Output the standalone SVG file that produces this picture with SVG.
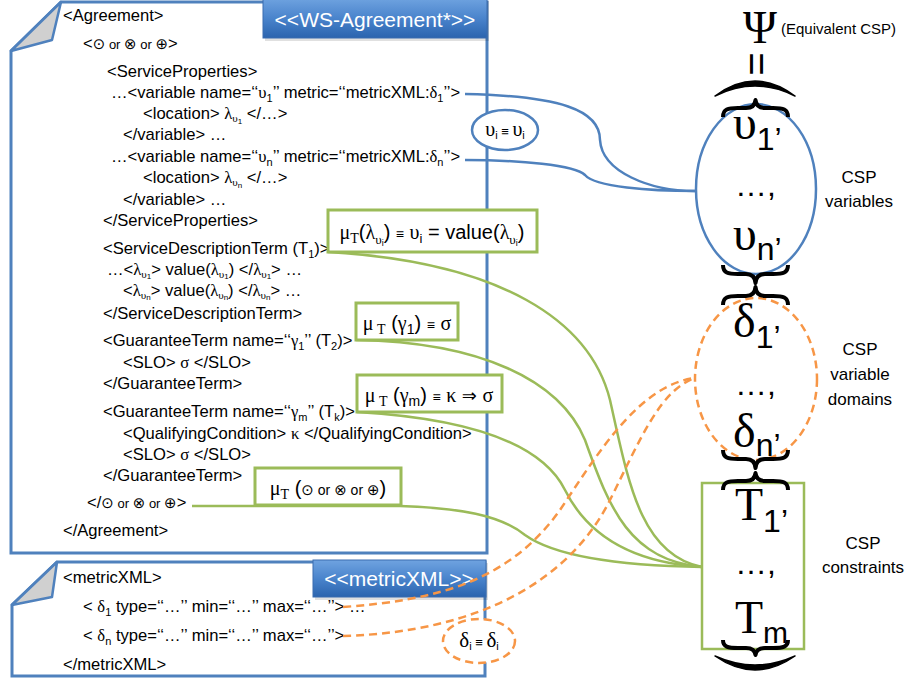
<svg xmlns="http://www.w3.org/2000/svg" width="914" height="679" viewBox="0 0 914 679">
<defs>
<linearGradient id="lblg" x1="0" y1="0" x2="0" y2="1">
<stop offset="0" stop-color="#6FA3E0"/>
<stop offset="0.5" stop-color="#4A84CC"/>
<stop offset="1" stop-color="#2B64AE"/>
</linearGradient>
</defs>
<style>
.doc{fill:#fff;stroke:#4F81BD;stroke-width:3}
.fold{fill:#D0D0D0;stroke:#4F81BD;stroke-width:2.5;stroke-linejoin:round}
.lbl{fill:url(#lblg);stroke:#3A6DAF;stroke-width:1}
.lt{font-family:"Liberation Sans",Arial,sans-serif;font-size:21px;fill:#fff;text-anchor:middle}
.t{font-family:"Liberation Sans",Arial,sans-serif;font-size:16.6px;fill:#000}
.g{font-family:"Liberation Serif","Times New Roman",serif}
.sy{font-family:"DejaVu Sans",sans-serif;font-size:15px}
.or{font-size:13px}
.gbox{fill:#fff;stroke:#9BBB59;stroke-width:3}
.bx{font-family:"Liberation Sans",Arial,sans-serif;font-size:20px;fill:#000}
.gl{fill:none;stroke:#9BBB59;stroke-width:2.5}
.bl{fill:none;stroke:#4F81BD;stroke-width:2.5}
.ol{fill:none;stroke:#F79646;stroke-width:2.5;stroke-dasharray:8 5}
.big{font-family:"Liberation Serif","Times New Roman",serif;fill:#000}
.bs{font-family:"Liberation Sans",Arial,sans-serif;fill:#000}
.cap{font-family:"Liberation Sans",Arial,sans-serif;font-size:17px;fill:#000;text-anchor:middle}
.br{fill:none;stroke:#000;stroke-width:4;stroke-linejoin:round}
</style>

<g id="agreement-doc">
<path class="doc" d="M61,2 L487,2 L487,553 L11,553 L11,51 Z"/>
<path class="fold" d="M61,2 L52,40 L11,51 Z"/>
<rect x="265" y="1" width="224" height="40" fill="#000" opacity="0.12"/>
<rect class="lbl" x="263" y="-2" width="224" height="40"/>
<text class="lt" x="375" y="27">&lt;&lt;WS-Agreement*&gt;&gt;</text>
<text class="t" x="63" y="21">&lt;Agreement&gt;</text>
<text class="t" x="83" y="49">&lt;<tspan class="sy">⊙</tspan><tspan class="or"> or </tspan><tspan class="sy">⊗</tspan><tspan class="or"> or </tspan><tspan class="sy">⊕</tspan>&gt;</text>
<text class="t" x="107" y="77">&lt;ServiceProperties&gt;</text>
<text class="t" x="111" y="98">…&lt;variable name=‘‘<tspan class="g">υ</tspan><tspan font-size="11" dy="4">1</tspan><tspan dy="-4">’’ metric=‘‘metricXML:</tspan><tspan class="g">δ</tspan><tspan font-size="11" dy="4">1</tspan><tspan dy="-4">’’&gt;</tspan></text>
<text class="t" x="143" y="119">&lt;location&gt; <tspan class="g">λ</tspan><tspan class="g" font-size="11" dy="3">υ</tspan><tspan font-size="8" dy="2">1</tspan><tspan dy="-5"> &lt;/…&gt;</tspan></text>
<text class="t" x="123" y="140">&lt;/variable&gt; …</text>
<text class="t" x="111" y="162">…&lt;variable name=‘‘<tspan class="g">υ</tspan><tspan font-size="11" dy="4">n</tspan><tspan dy="-4">’’ metric=‘‘metricXML:</tspan><tspan class="g">δ</tspan><tspan font-size="11" dy="4">n</tspan><tspan dy="-4">’’&gt;</tspan></text>
<text class="t" x="143" y="183">&lt;location&gt; <tspan class="g">λ</tspan><tspan class="g" font-size="11" dy="3">υ</tspan><tspan font-size="8" dy="2">n</tspan><tspan dy="-5"> &lt;/…&gt;</tspan></text>
<text class="t" x="123" y="205">&lt;/variable&gt; …</text>
<text class="t" x="103" y="226">&lt;/ServiceProperties&gt;</text>
<text class="t" x="103" y="254">&lt;ServiceDescriptionTerm (T<tspan font-size="11" dy="4">1</tspan><tspan dy="-4">)&gt;</tspan></text>
<text class="t" x="107" y="275">…&lt;<tspan class="g">λ</tspan><tspan class="g" font-size="11" dy="3">υ</tspan><tspan font-size="8" dy="1">1</tspan><tspan dy="-4">&gt;  value(</tspan><tspan class="g">λ</tspan><tspan class="g" font-size="11" dy="3">υ</tspan><tspan font-size="8" dy="1">1</tspan><tspan dy="-4">) &lt;/</tspan><tspan class="g">λ</tspan><tspan class="g" font-size="11" dy="3">υ</tspan><tspan font-size="8" dy="1">1</tspan><tspan dy="-4">&gt; …</tspan></text>
<text class="t" x="123" y="296">&lt;<tspan class="g">λ</tspan><tspan class="g" font-size="11" dy="3">υ</tspan><tspan font-size="8" dy="1">n</tspan><tspan dy="-4">&gt;  value(</tspan><tspan class="g">λ</tspan><tspan class="g" font-size="11" dy="3">υ</tspan><tspan font-size="8" dy="1">n</tspan><tspan dy="-4">) &lt;/</tspan><tspan class="g">λ</tspan><tspan class="g" font-size="11" dy="3">υ</tspan><tspan font-size="8" dy="1">n</tspan><tspan dy="-4">&gt; …</tspan></text>
<text class="t" x="103" y="319">&lt;/ServiceDescriptionTerm&gt;</text>
<text class="t" x="103" y="346">&lt;GuaranteeTerm name=‘‘<tspan class="g">γ</tspan><tspan font-size="11" dy="4">1</tspan><tspan dy="-4">’’ (T</tspan><tspan font-size="11" dy="4">2</tspan><tspan dy="-4">)&gt;</tspan></text>
<text class="t" x="123" y="368">&lt;SLO&gt;  <tspan class="g">σ</tspan>  &lt;/SLO&gt;</text>
<text class="t" x="103" y="389">&lt;/GuaranteeTerm&gt;</text>
<text class="t" x="103" y="417">&lt;GuaranteeTerm name=‘‘<tspan class="g">γ</tspan><tspan font-size="11" dy="4">m</tspan><tspan dy="-4">’’ (T</tspan><tspan font-size="11" dy="4">k</tspan><tspan dy="-4">)&gt;</tspan></text>
<text class="t" x="123" y="439">&lt;QualifyingCondition&gt; <tspan class="g">κ</tspan> &lt;/QualifyingCondition&gt;</text>
<text class="t" x="123" y="460">&lt;SLO&gt;  <tspan class="g">σ</tspan>  &lt;/SLO&gt;</text>
<text class="t" x="103" y="481">&lt;/GuaranteeTerm&gt;</text>
<text class="t" x="87" y="508">&lt;/<tspan class="sy">⊙</tspan><tspan class="or"> or </tspan><tspan class="sy">⊗</tspan><tspan class="or"> or </tspan><tspan class="sy">⊕</tspan>&gt;</text>
<text class="t" x="63" y="536">&lt;/Agreement&gt;</text>
</g>

<g id="metricxml-doc">
<path class="doc" d="M57,562 L485,562 L485,676 L12,676 L12,605 Z"/>
<path class="fold" d="M57,562 L52,597 L12,605 Z"/>
<rect x="315" y="563" width="173" height="37" fill="#000" opacity="0.12"/>
<rect class="lbl" x="313" y="560" width="173" height="37"/>
<text class="lt" x="399" y="586">&lt;&lt;metricXML&gt;&gt;</text>
<text class="t" x="63" y="583">&lt;metricXML&gt;</text>
<text class="t" x="83" y="612">&lt; <tspan class="g">δ</tspan><tspan font-size="11" dy="4">1</tspan><tspan dy="-4"> type=‘‘…’’ min=‘‘…’’ max=‘‘…’’&gt; …</tspan></text>
<text class="t" x="83" y="641">&lt; <tspan class="g">δ</tspan><tspan font-size="11" dy="4">n</tspan><tspan dy="-4"> type=‘‘…’’ min=‘‘…’’ max=‘‘…’’&gt;</tspan></text>
<text class="t" x="63" y="670">&lt;/metricXML&gt;</text>
</g>

<g id="connectors">
<path class="bl" d="M465,94 C560,96 600,110 600,140 C602,172 650,191 695,191"/>
<path class="bl" d="M465,160 C520,160 575,165 585,175 C595,187 650,191 695,191"/>
<path class="gl" d="M328,252 C500,262 590,320 610,400 C628,480 640,555 702,567"/>
<path class="gl" d="M356,340 C480,342 560,380 585,440 C610,510 630,560 702,567"/>
<path class="gl" d="M357,412 C460,418 540,440 565,490 C590,540 640,563 702,567"/>
<path class="gl" d="M192,506 L400,506 C460,508 500,515 525,535 C560,560 640,566 702,567"/>
<path class="ol" d="M343,607 C440,600 510,580 560,510 C600,450 640,385 695,378"/>
<path class="ol" d="M343,636 C480,632 570,580 610,500 C640,440 660,390 695,378"/>
</g>

<g id="upsilon-equiv">
<ellipse cx="505" cy="130" rx="33" ry="20" fill="#fff" stroke="#4F81BD" stroke-width="2.5"/>
<text class="bx" x="505" y="136" text-anchor="middle" font-size="18"><tspan class="g" font-size="20">υ</tspan><tspan font-size="11" dy="3">i</tspan><tspan dy="-3" font-size="13"> ≡ </tspan><tspan class="g" font-size="20">υ</tspan><tspan font-size="11" dy="3">i</tspan></text>
</g>

<g id="delta-equiv">
<ellipse cx="479" cy="641" rx="36" ry="22" fill="#fff" stroke="#F79646" stroke-width="2.5" stroke-dasharray="8 5"/>
<text class="bx" x="479" y="647" text-anchor="middle" font-size="17"><tspan class="g" font-size="21">δ</tspan><tspan font-size="11" dy="3">i</tspan><tspan dy="-3" font-size="13"> ≡ </tspan><tspan class="g" font-size="21">δ</tspan><tspan font-size="11" dy="3">i</tspan></text>
</g>

<g id="box-sdt">
<rect class="gbox" x="328" y="210" width="209" height="42"/>
<text class="bx" x="432" y="239" text-anchor="middle"><tspan class="g">μ</tspan><tspan class="g" font-size="14" dy="4">T</tspan><tspan dy="-4">(</tspan><tspan class="g">λ</tspan><tspan class="g" font-size="13" dy="5">υ</tspan><tspan font-size="9" dy="2">i</tspan><tspan dy="-7">) </tspan><tspan font-size="14">≡</tspan> <tspan class="g">υ</tspan><tspan font-size="13" dy="4">i</tspan><tspan dy="-4"> = value(</tspan><tspan class="g">λ</tspan><tspan class="g" font-size="13" dy="5">υ</tspan><tspan font-size="9" dy="2">i</tspan><tspan dy="-7">)</tspan></text>
</g>

<g id="box-gt1">
<rect class="gbox" x="356" y="303" width="102" height="37"/>
<text class="bx" x="407" y="330" text-anchor="middle"><tspan class="g">μ</tspan><tspan class="g" font-size="14" dy="4"> T</tspan><tspan dy="-4"> (</tspan><tspan class="g">γ</tspan><tspan font-size="14" dy="4">1</tspan><tspan dy="-4">) </tspan><tspan font-size="14">≡</tspan> <tspan class="g">σ</tspan></text>
</g>

<g id="box-gtm">
<rect class="gbox" x="357" y="375" width="145" height="37"/>
<text class="bx" x="429" y="402" text-anchor="middle"><tspan class="g">μ</tspan><tspan class="g" font-size="14" dy="4"> T</tspan><tspan dy="-4"> (</tspan><tspan class="g">γ</tspan><tspan font-size="14" dy="4">m</tspan><tspan dy="-4">) </tspan><tspan font-size="14">≡</tspan> <tspan class="g">κ</tspan> <tspan font-family="DejaVu Sans, sans-serif" font-size="18">⇒</tspan> <tspan class="g">σ</tspan></text>
</g>

<g id="box-op">
<rect class="gbox" x="255" y="468" width="146" height="37"/>
<text class="bx" x="328" y="495" text-anchor="middle"><tspan class="g">μ</tspan><tspan class="g" font-size="14" dy="4">T</tspan><tspan dy="-4"> (</tspan><tspan class="sy" font-size="17">⊙</tspan><tspan font-size="14"> or </tspan><tspan class="sy" font-size="17">⊗</tspan><tspan font-size="14"> or </tspan><tspan class="sy" font-size="17">⊕</tspan>)</text>
</g>

<g id="csp">
<text class="big" x="743" y="43" font-size="46">Ψ</text>
<text class="bs" x="781" y="34" font-size="15">(Equivalent CSP)</text>
<text class="bs" transform="translate(757,64) rotate(90)" x="0" y="14" font-size="40" text-anchor="middle">=</text>
<path d="M715,96 Q755,66 795,96 Q755,76 715,96 Z" fill="#000" stroke="#000" stroke-width="1.5" stroke-linejoin="round"/>
<path d="M715,656 Q755,684 795,656 Q755,674 715,656 Z" fill="#000" stroke="#000" stroke-width="1.5" stroke-linejoin="round"/>
</g>

<g id="csp-variables">
<ellipse cx="756" cy="189" rx="60" ry="85" fill="none" stroke="#4F81BD" stroke-width="2.5"/>
<text class="big" x="733" y="139" font-size="48">υ<tspan class="bs" font-size="32" dy="11">1’</tspan></text>
<text class="bs" x="735" y="196" font-size="32">…,</text>
<text class="big" x="733" y="250" font-size="48">υ<tspan class="bs" font-size="32" dy="10">n’</tspan></text>
<text class="cap" x="859" y="183">CSP</text>
<text class="cap" x="859" y="207">variables</text>
</g>

<g id="csp-domains">
<ellipse cx="756" cy="379" rx="61" ry="81" fill="none" stroke="#F79646" stroke-width="2.5" stroke-dasharray="8 5"/>
<text class="big" x="733" y="337" font-size="48">δ<tspan class="bs" font-size="32" dy="11">1’</tspan></text>
<text class="bs" x="735" y="395" font-size="32">…,</text>
<text class="big" x="733" y="447" font-size="48">δ<tspan class="bs" font-size="32" dy="9">n’</tspan></text>
<text class="cap" x="860" y="355">CSP</text>
<text class="cap" x="860" y="380">variable</text>
<text class="cap" x="860" y="405">domains</text>
</g>

<g id="csp-constraints">
<rect x="702" y="483" width="102" height="166" fill="none" stroke="#9BBB59" stroke-width="2.5"/>
<text class="big" x="735" y="520" font-size="46">T<tspan class="bs" font-size="32" dy="12">1’</tspan></text>
<text class="bs" x="735" y="574" font-size="32">…,</text>
<text class="big" x="735" y="633" font-size="46">T<tspan class="bs" font-size="30" dy="10">m</tspan></text>
<text class="cap" x="863" y="549">CSP</text>
<text class="cap" x="863" y="573">constraints</text>
</g>

<g id="braces">
<path class="br" d="M723,117 C723,109 728,108 738,108 L746,108 C752,108 755,105 755.5,100 C756,105 759,108 765,108 L773,108 C783,108 788,109 788,117"/>
<path class="br" d="M723,265 C723,273 728,274 738,274 L746,274 C752,274 755,277 755.5,283 C756,277 759,274 765,274 L773,274 C783,274 788,273 788,265"/>
<path class="br" d="M723,305 C723,297 728,296 738,296 L746,296 C752,296 755,293 755.5,287 C756,293 759,296 765,296 L773,296 C783,296 788,297 788,305"/>
<path class="br" d="M723,450 C723,458 728,459 738,459 L746,459 C752,459 755,462 755.5,468 C756,462 759,459 765,459 L773,459 C783,459 788,458 788,450"/>
<path class="br" d="M723,490 C723,482 728,481 738,481 L746,481 C752,481 755,478 755.5,473 C756,478 759,481 765,481 L773,481 C783,481 788,482 788,490"/>
<path class="br" d="M723,640 C723,647 728,648 738,648 L746,648 C752,648 755,651 755.5,655 C756,651 759,648 765,648 L773,648 C783,648 788,647 788,640"/>
</g>
</svg>
